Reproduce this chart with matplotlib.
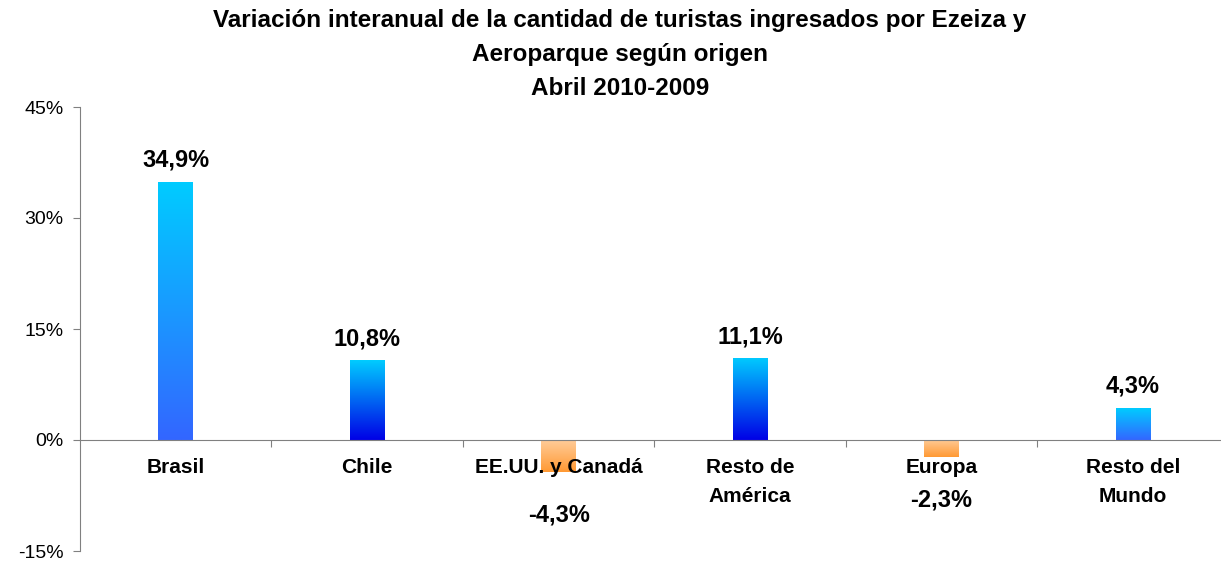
import numpy as np
import matplotlib.pyplot as plt
from matplotlib.colors import LinearSegmentedColormap

plt.rcParams['font.family'] = ['Liberation Sans', 'DejaVu Sans']

# Datos
categorias = ['Brasil', 'Chile', 'EE.UU. y Canadá', 'Resto de\nAmérica', 'Europa', 'Resto del\nMundo']
variacion = [34.9, 10.8, -4.3, 11.1, -2.3, 4.3]
etiquetas = ['34,9%', '10,8%', '-4,3%', '11,1%', '-2,3%', '4,3%']
# degradado de cada barra (arriba, abajo)
colores = [('#00CCFF', '#3366FF'), ('#00CCFF', '#0000E6'), ('#FFCC99', '#FF9933'),
           ('#00CCFF', '#0000E6'), ('#FFCC99', '#FF9933'), ('#00CCFF', '#3366FF')]
desplaz = [16, 15, -31, 15, -31, 16]  # desplazamiento de etiquetas (pt)

fig = plt.figure(figsize=(12.21, 5.62), dpi=100)
ax = fig.add_axes([80 / 1221, 11 / 562, 1 - 80 / 1221, (551 - 107) / 562])
ax.set_axisbelow(False)

x = np.arange(len(categorias))
barras = ax.bar(x, variacion, width=0.18, color='none', edgecolor='none', zorder=2)

# relleno con degradado vertical
grad = np.linspace(0, 1, 256).reshape(-1, 1)
for b, (c_top, c_bot) in zip(barras, colores):
    cmap = LinearSegmentedColormap.from_list('g', [c_bot, c_top])
    x0, y0 = b.get_x(), b.get_y()
    w, h = b.get_width(), b.get_height()
    ylo, yhi = min(y0, y0 + h), max(y0, y0 + h)
    img = ax.imshow(grad, cmap=cmap, aspect='auto', origin='lower',
                    extent=[x0, x0 + w, ylo, yhi], zorder=1)
    img.set_clip_path(b)

for xi, v, t, d in zip(x, variacion, etiquetas, desplaz):
    ax.annotate(t, (xi, v), xytext=(0, d), textcoords='offset points',
                ha='center', va='center', fontsize=17, fontweight='bold')

# nombres de categorías debajo de la línea del cero
for xi, c in zip(x, categorias):
    ax.annotate(c, (xi, 0), xytext=(0, -13), textcoords='offset points',
                ha='center', va='top', fontsize=15, fontweight='bold',
                linespacing=1.65, zorder=3)

ax.set_xlim(-0.5, 5.46)
ax.set_ylim(-15, 45)
ax.set_yticks([-15, 0, 15, 30, 45])
ax.set_yticklabels(['-15%', '0%', '15%', '30%', '45%'], fontsize=14)

ax.set_xticks(np.arange(0.5, 5.5, 1))
ax.set_xticklabels([])
ax.tick_params(axis='x', which='major', length=5, color='#808080')
ax.tick_params(axis='y', length=5, color='#808080', pad=7)

ax.spines['bottom'].set_position(('data', 0))
ax.spines['bottom'].set_color('#808080')
ax.spines['left'].set_color('#808080')
ax.spines['top'].set_visible(False)
ax.spines['right'].set_visible(False)

fig.text(620 / 1221, 1 - 9 / 562,
         'Variación interanual de la cantidad de turistas ingresados por Ezeiza y\n'
         'Aeroparque según origen\nAbril 2010-2009',
         ha='center', va='top', fontsize=17.5, fontweight='bold', linespacing=1.6)

fig.savefig('out.png', dpi=100)
